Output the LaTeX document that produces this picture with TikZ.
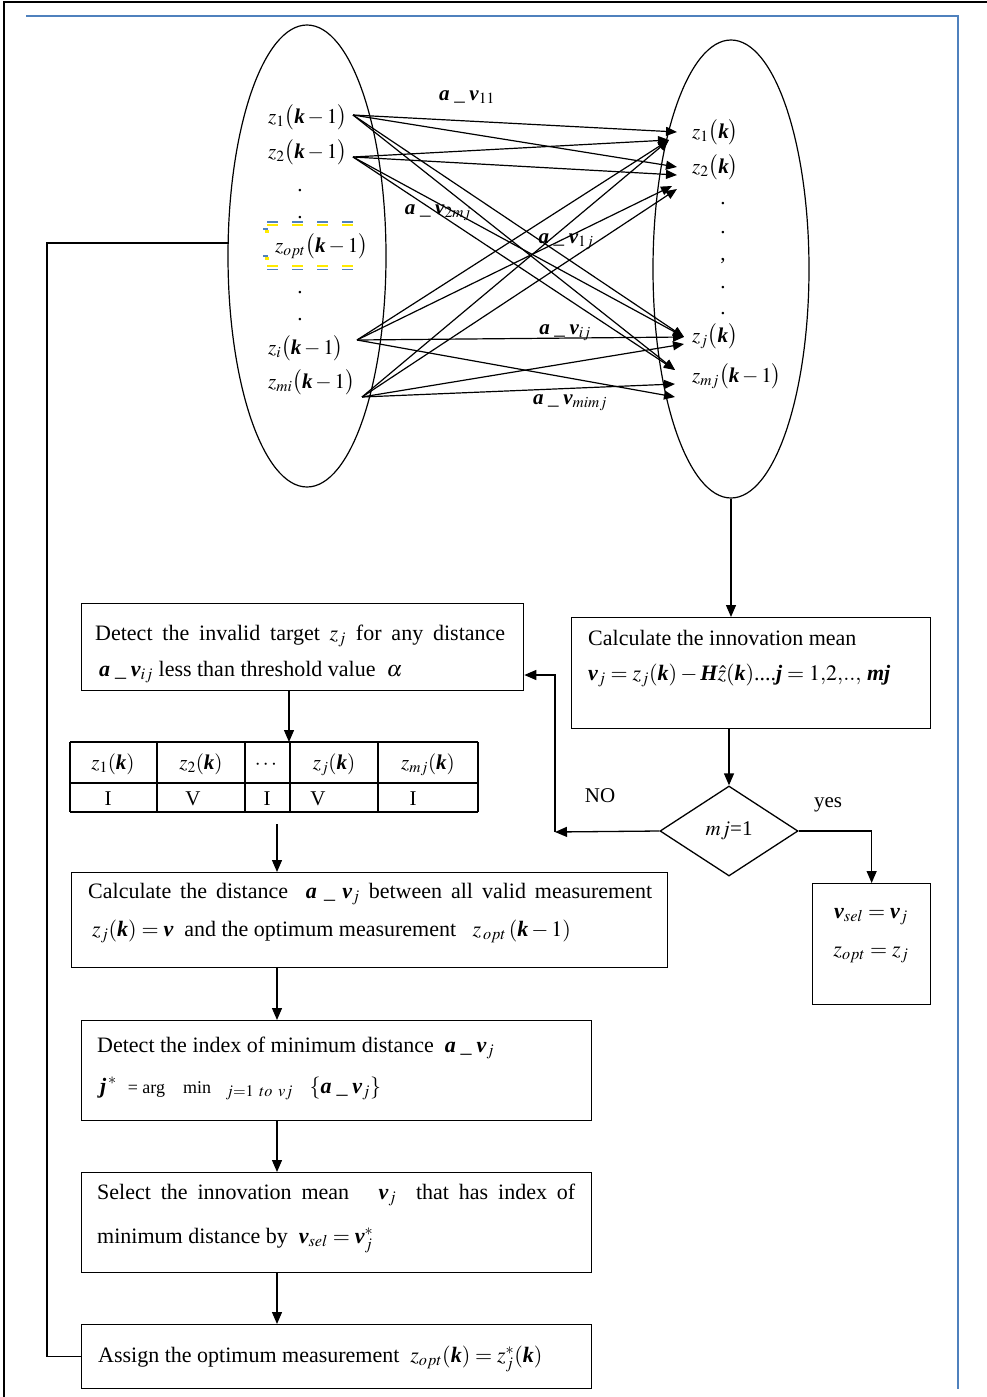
\documentclass[tikz,border=0pt]{standalone}
\usepackage{amsmath}
\usepackage{mathptmx}
\usepackage{fontspec}
\setmainfont{Liberation Serif}
\usetikzlibrary{shapes.geometric,arrows.meta}
\newcommand{\bvar}[1]{\text{\bfseries\itshape #1}}
\newcommand{\av}[1]{\bvar{a}\;\_\;\bvar{v}_{#1}}
\definecolor{wordblue}{RGB}{79,129,189}
\definecolor{hlyellow}{RGB}{255,235,0}
\begin{document}
\begin{tikzpicture}[x=1pt,y=-1pt,
  every node/.style={font=\fontsize{21}{25}\selectfont},
  box/.style={draw, line width=1.3pt, rectangle, inner sep=0pt, anchor=north west},
  txt/.style={anchor=base west, inner sep=0pt},
  ctxt/.style={anchor=base, inner sep=0pt},
  btxt/.style={anchor=base west, inner sep=0pt, font=\fontsize{22}{26}\selectfont},
  arr/.style={line width=1.3pt, -{Triangle[length=12pt,width=10pt]}},
  web/.style={line width=1.2pt, -{Triangle[length=11pt,width=9pt]}},
  plain/.style={line width=1.3pt},
  oval/.style={draw, ellipse, line width=1.2pt, inner sep=0pt},
  ydash/.style={hlyellow, line width=2.6pt, dash pattern=on 11pt off 14pt},
  bdash/.style={wordblue, line width=1.6pt, dash pattern=on 11pt off 14pt}]
\useasboundingbox (0,0) rectangle (986,1397);
% frames
\draw[line width=2pt] (4,1398) -- (4,2.5) -- (987,2.5);
\draw[wordblue, line width=1.6pt] (26,16) -- (958,16) -- (958,1389);

% ellipses
\node[oval, minimum width=158pt, minimum height=462pt] (ellL) at (307,256) {};
\node[oval, minimum width=156pt, minimum height=458pt] (ellR) at (731,269) {};

% highlight marks around z_opt
\draw[bdash] (267,222) -- (360,222);
\draw[ydash] (267,225) -- (360,225);
\draw[ydash] (267,266) -- (360,266);
\draw[bdash] (267,269.5) -- (360,269.5);
\draw[wordblue, line width=1.6pt] (263,229) -- (268,229);
\draw[hlyellow, line width=2.4pt] (265,231.5) -- (269,231.5);
\draw[wordblue, line width=1.6pt] (263,256) -- (268,256);
\draw[hlyellow, line width=2.4pt] (265,258.5) -- (269,258.5);

% left ellipse texts
\node[txt] (zL1) at (268,123) {$z_1\bigl(\bvar{k}-1\bigr)$};
\node[txt] (zL2) at (268,158) {$z_2\bigl(\bvar{k}-1\bigr)$};
\node[ctxt] (dL1) at (300,191) {.};
\node[ctxt] (dL2) at (300,218) {.};
\node[txt] (zLo) at (275,252) {$z_{opt}\bigl(\bvar{k}-1\bigr)$};
\node[ctxt] (dL3) at (300,293) {.};
\node[ctxt] (dL4) at (300,320) {.};
\node[txt] (zLi) at (268,354) {$z_i\bigl(\bvar{k}-1\bigr)$};
\node[txt] (zLm) at (268,388) {$z_{mi}\bigl(\bvar{k}-1\bigr)$};

% right ellipse texts
\node[txt] (zR1) at (692,138) {$z_1\bigl(\bvar{k}\bigr)$};
\node[txt] (zR2) at (692,173) {$z_2\bigl(\bvar{k}\bigr)$};
\node[ctxt] (dR1) at (723,204) {.};
\node[ctxt] (dR2) at (723,233) {.};
\node[ctxt] (dR3) at (723,260) {,};
\node[ctxt] (dR4) at (723,288) {.};
\node[ctxt] (dR5) at (723,314) {.};
\node[txt] (zRj) at (692,342) {$z_j\bigl(\bvar{k}\bigr)$};
\node[txt] (zRm) at (692,382) {$z_{mj}\bigl(\bvar{k}-1\bigr)$};

% web of associations
\coordinate (S1) at (353,115);
\coordinate (S2) at (353,157);
\coordinate (Si) at (357,340);
\coordinate (Sm) at (362,397);
\coordinate (T1a) at (677,132);
\coordinate (T1b) at (669,140);
\coordinate (T2a) at (677,167);
\coordinate (T2b) at (677,175);
\coordinate (T2c) at (672,186);
\coordinate (T2d) at (677,189);
\coordinate (Tja) at (684,337);
\coordinate (Tjb) at (684,344);
\coordinate (Tma) at (675,370);
\coordinate (Tmb) at (675,384);
\coordinate (Tmc) at (675,397);
\foreach \s/\t in {S1/T1a,S1/T2a,S1/Tja,S1/Tma,
                   S2/T1b,S2/T2b,S2/Tja,S2/Tma,
                   Si/T1b,Si/T2c,Si/Tja,Si/Tmc,
                   Sm/T1b,Sm/T2d,Sm/Tjb,Sm/Tmb}
  \draw[web] (\s) -- (\t);

\node[ctxt] (l11) at (467,100) {$\av{11}$};
\node[ctxt] (l2mj) at (438,214) {$\av{2mj}$};
\node[ctxt] (l1j) at (566,243) {$\av{1j}$};
\node[ctxt] (lij) at (565,334) {$\av{ij}$};
\node[ctxt] (lmimj) at (570,404) {$\av{mimj}$};

% boxes
\node[box, minimum width=442pt, minimum height=87pt] (det) at (81,603) {};
\node[btxt] (detA) at (95,640) {\makebox[410pt][s]{Detect the invalid target $z_j$ for any distance}};
\node[btxt] (detB) at (99,676) {$\av{ij}$ less than threshold value \ $\alpha$};

\node[box, minimum width=359pt, minimum height=111pt] (calc) at (571,617) {};
\node[btxt] (calcA) at (588,645) {Calculate the innovation mean};
\node[btxt] (calcB) at (588,680) {$\bvar{v}_j = z_j(\bvar{k}) - \bvar{H}\hat{z}(\bvar{k})\text{....}\bvar{j} = 1{,}2{,}..{,}\ \bvar{mj}$};

\node[draw, diamond, line width=1.3pt, inner sep=0pt, minimum width=138pt, minimum height=90pt] (dia) at (729,831) {$mj$=1};
\node[ctxt] (nolab) at (600,802) {NO};
\node[ctxt] (yeslab) at (828,807) {yes};

\node[box, minimum width=118pt, minimum height=121pt] (vsel) at (812,883) {};
\node[ctxt, font=\fontsize{22}{26}\selectfont] (vselA) at (871,918) {$\bvar{v}_{sel} = \bvar{v}_j$};
\node[ctxt, font=\fontsize{22}{26}\selectfont] (vselB) at (871,956) {$z_{opt} = z_j$};

% table
\draw[plain] (70,742) -- (478,742);
\draw[plain] (70,783) -- (478,783);
\draw[plain] (70,812) -- (478,812);
\foreach \x in {70,157,245,290,378,478} \draw[plain] (\x,742) -- (\x,812);
\node[ctxt] (c1) at (113,769) {$z_1(\bvar{k})$};
\node[ctxt] (c2) at (201,769) {$z_2(\bvar{k})$};
\node[ctxt] (c3) at (267,769) {$\cdots$};
\node[ctxt] (c4) at (334,769) {$z_j(\bvar{k})$};
\node[ctxt] (c5) at (428,769) {$z_{mj}(\bvar{k})$};
\node[ctxt] (r1) at (108,805) {I};
\node[ctxt] (r2) at (193,805) {V};
\node[ctxt] (r3) at (267,805) {I};
\node[ctxt] (r4) at (318,805) {V};
\node[ctxt] (r5) at (413,805) {I};
\coordinate (tbltop) at (289,742);
\coordinate (tblout) at (277,824);

\node[box, minimum width=596pt, minimum height=95pt] (cdist) at (71,872) {};
\node[btxt] (cdA) at (88,898) {\makebox[564pt][s]{Calculate the distance \ $\av{j}$ between all valid measurement}};
\node[btxt] (cdB) at (92,936) {$z_j(\bvar{k}) = \bvar{v}$ \ and the optimum measurement \ \ $z_{\,opt}\,(\bvar{k}-1)$};

\node[box, minimum width=510pt, minimum height=100pt] (idx) at (81,1020) {};
\node[btxt] (idxA) at (97,1052) {Detect the index of minimum distance \ $\av{j}$};
\node[btxt] (idxB) at (100,1093) {$\bvar{j}^{\,*}$ \ {\fontsize{18}{20}\selectfont = arg \ \ \ min} \ $_{\;j=1\;\,to\;\,vj}$ \ \ $\{\av{j}\}$};

\node[box, minimum width=510pt, minimum height=100pt] (sel) at (81,1172) {};
\node[btxt] (selA) at (97,1199) {\makebox[478pt][s]{Select the innovation mean \ \ $\bvar{v}_j$ \ that has index of}};
\node[btxt] (selB) at (97,1243) {minimum distance by \ $\bvar{v}_{sel} = \bvar{v}^{*}_{j}$};

\node[box, minimum width=510pt, minimum height=64pt] (asg) at (81,1324) {};
\node[btxt] (asgA) at (98,1362) {Assign the optimum measurement \ $z_{opt}(\bvar{k}) = z^{*}_{j}(\bvar{k})$};

% connectors
\coordinate (colx) at (277,0);
\coordinate (noc) at (555,832);
\coordinate (noup) at (555,675);
\coordinate (fbc) at (47,243);
\coordinate (ellin) at (229,243);
\draw[arr] (ellR.south) -- (ellR.south |- calc.north);
\draw[arr] (dia.north |- calc.south) -- (dia.north);
\draw[arr] (dia.west) -- (noc);
\draw[arr] (noc) -- (noup) -- (noup -| det.east);
\draw[arr] (dia.east) -| (vsel.north);
\draw[arr] (det.south -| tbltop) -- (tbltop);
\draw[arr] (tblout) -- (tblout |- cdist.north);
\draw[arr] (cdist.south -| colx) -- (idx.north -| colx);
\draw[arr] (idx.south -| colx) -- (sel.north -| colx);
\draw[arr] (sel.south -| colx) -- (asg.north -| colx);
\draw[plain] (asg.west) -| (fbc) -- (ellin);
\end{tikzpicture}
\end{document}
